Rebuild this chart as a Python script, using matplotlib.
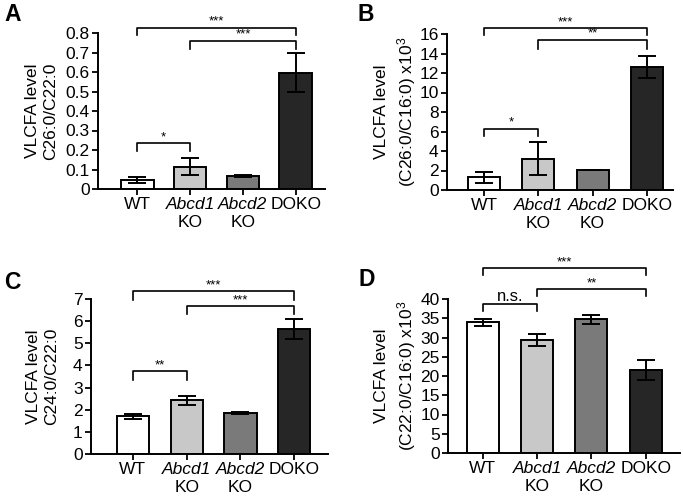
import matplotlib
matplotlib.use("Agg")
import matplotlib.pyplot as plt
import matplotlib.transforms as mtransforms
import numpy as np

plt.rcParams['font.family'] = ['Liberation Sans', 'DejaVu Sans']
plt.rcParams['mathtext.fontset'] = 'custom'
plt.rcParams['mathtext.rm'] = 'Liberation Sans'
plt.rcParams['mathtext.it'] = 'Liberation Sans:italic'
plt.rcParams['mathtext.bf'] = 'Liberation Sans:bold'

cat_line1 = ["WT", "Abcd1", "Abcd2", "DOKO"]
cat_line2 = ["", "KO", "KO", ""]
cat_italic = [False, True, True, False]
bar_colors = ["#ffffff", "#c8c8c8", "#7a7a7a", "#262626"]

# Panel A
a_mean = [0.045, 0.115, 0.065, 0.595]
a_err = [0.015, 0.045, 0.005, 0.100]
a_ticks = [0, 0.1, 0.2, 0.3, 0.4, 0.5, 0.6, 0.7, 0.8]
a_ticklabels = ["0", "0.1", "0.2", "0.3", "0.4", "0.5", "0.6", "0.7", "0.8"]
# brackets: (i, j, level, left drop, right drop, label)
a_brackets = [(0, 1, 0.236, 0.193, 0.193, "*"),
              (0, 3, 0.826, 0.790, 0.790, "***"),
              (1, 3, 0.760, 0.720, 0.720, "***")]

# Panel B
b_mean = [1.3, 3.2, 2.05, 12.6]
b_err = [0.55, 1.7, 0.0, 1.1]
b_ticks = [0, 2, 4, 6, 8, 10, 12, 14, 16]
b_brackets = [(0, 1, 6.3, 5.5, 5.5, "*"),
              (0, 3, 16.6, 15.9, 15.9, "***"),
              (1, 3, 15.4, 14.45, 14.45, "**")]

# Panel C
c_mean = [1.70, 2.42, 1.85, 5.65]
c_err = [0.12, 0.20, 0.04, 0.45]
c_ticks = [0, 1, 2, 3, 4, 5, 6, 7]
c_brackets = [(0, 1, 3.73, 3.35, 3.35, "**"),
              (0, 3, 7.35, 6.97, 6.97, "***"),
              (1, 3, 6.67, 6.33, 6.33, "***")]

# Panel D
d_mean = [34.0, 29.3, 34.7, 21.6]
d_err = [0.9, 1.5, 1.1, 2.6]
d_ticks = [0, 5, 10, 15, 20, 25, 30, 35, 40]
d_brackets = [(0, 1, 38.8, 36.8, 36.8, "n.s."),
              (0, 3, 48.0, 46.3, 46.3, "***"),
              (1, 3, 42.6, 40.7, 40.7, "**")]

fig = plt.figure(figsize=(6.83, 4.96), dpi=100)

W, H = 683.0, 496.0


def make_axes(x0, x1, ytop, ybot):
    return fig.add_axes([x0 / W, 1 - ybot / H, (x1 - x0) / W, (ybot - ytop) / H])


panels = [
    dict(rect=(98, 325, 33, 189), mean=a_mean, err=a_err, ticks=a_ticks, tl=a_ticklabels,
         ylim=(0, 0.8), xlim=(-0.74, 3.55), width=0.62, br=a_brackets,
         ylabel="VLCFA level\nC26:0/C22:0", ylx=41.5, lsp=1.2, letter="A", lpos=(4, 3)),
    dict(rect=(447, 673, 34, 190), mean=b_mean, err=b_err, ticks=b_ticks, tl=[str(t) for t in b_ticks],
         ylim=(0, 16), xlim=(-0.68, 3.48), width=0.59, br=b_brackets,
         ylabel="VLCFA level\n(C26:0/C16:0) x10$^3$", ylx=396, lsp=1.3, letter="B", lpos=(357, 3)),
    dict(rect=(91, 328, 299, 454), mean=c_mean, err=c_err, ticks=c_ticks, tl=[str(t) for t in c_ticks],
         ylim=(0, 7), xlim=(-0.78, 3.63), width=0.6, br=c_brackets,
         ylabel="VLCFA level\nC24:0/C22:0", ylx=42.5, lsp=1.2, letter="C", lpos=(4, 271)),
    dict(rect=(448, 680, 299, 453), mean=d_mean, err=d_err, ticks=d_ticks, tl=[str(t) for t in d_ticks],
         ylim=(0, 40), xlim=(-0.64, 3.63), width=0.59, br=d_brackets,
         ylabel="VLCFA level\n(C22:0/C16:0) x10$^3$", ylx=396, lsp=1.3, letter="D", lpos=(358, 268)),
]

for p in panels:
    x0, x1, yt, yb = p["rect"]
    ax = make_axes(x0, x1, yt, yb)
    x = np.arange(len(cat_line1))
    ax.bar(x, p["mean"], width=p["width"], color=bar_colors, edgecolor="black", linewidth=1.4, zorder=2)
    ax.errorbar(x, p["mean"], yerr=p["err"], fmt="none", ecolor="black", elinewidth=1.4,
                capsize=6.5, capthick=1.4, zorder=3)
    ax.set_xlim(*p["xlim"])
    ax.set_ylim(*p["ylim"])
    ax.set_yticks(p["ticks"])
    ax.set_yticklabels(p["tl"])
    ax.set_xticks(x)
    ax.set_xticklabels(cat_line1)
    for lab, it in zip(ax.get_xticklabels(), cat_italic):
        lab.set_fontstyle("italic" if it else "normal")
    ax.tick_params(axis="both", labelsize=12.5, length=4, width=1.3, direction="out", pad=2)
    for s in ["top", "right"]:
        ax.spines[s].set_visible(False)
    for s in ["left", "bottom"]:
        ax.spines[s].set_linewidth(1.4)
    ax.patch.set_alpha(0)
    # second line of x labels
    trans = mtransforms.blended_transform_factory(ax.transData, ax.transAxes)
    off = mtransforms.offset_copy(trans, fig=fig, x=0, y=-26, units="dots")
    for xi, t2 in zip(x, cat_line2):
        if t2:
            ax.text(xi, 0, t2, transform=off, ha="center", va="top", fontsize=12.5)
    # y label
    ax.text((p["ylx"] - x0) / (x1 - x0), 0.5, p["ylabel"], transform=ax.transAxes,
            rotation=90, ha="center", va="center", fontsize=12.5, linespacing=p["lsp"],
            multialignment="center")
    # brackets
    for (i, j, lev, dl, dr, lab) in p["br"]:
        ax.plot([i, i, j, j], [dl, lev, lev, dr], color="black", lw=1.2, clip_on=False, zorder=4)
        if lab == "n.s.":
            ax.text((i + j) / 2, lev, lab, ha="center", va="bottom", fontsize=12)
        else:
            ax.text((i + j) / 2, lev, lab, ha="center", va="bottom", fontsize=9.5)
    fig.text(p["lpos"][0] / W, 1 - p["lpos"][1] / H, p["letter"], fontsize=16.5,
             fontweight="bold", ha="left", va="top")

fig.savefig("out.png", dpi=100)
